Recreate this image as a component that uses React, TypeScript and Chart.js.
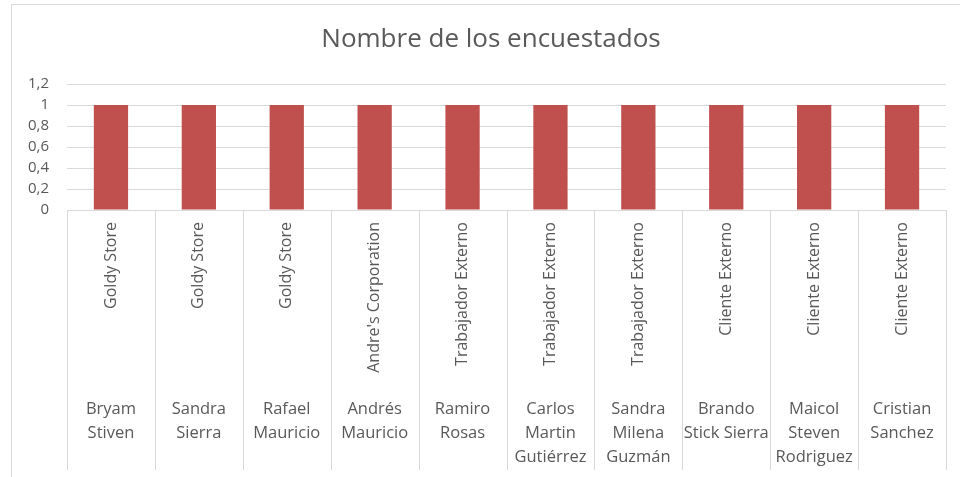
import React, { useEffect, useRef } from "react";
import { Chart, registerables } from "chart.js";

Chart.register(...registerables);

const chartTitle = "Nombre de los encuestados";
const names: string[][] = [
  ["Bryam", "Stiven"],
  ["Sandra", "Sierra"],
  ["Rafael", "Mauricio"],
  ["Andrés", "Mauricio"],
  ["Ramiro", "Rosas"],
  ["Carlos", "Martin", "Gutiérrez"],
  ["Sandra", "Milena", "Guzmán"],
  ["Brando", "Stick Sierra"],
  ["Maicol", "Steven", "Rodriguez"],
  ["Cristian", "Sanchez"],
];
const groups: string[] = [
  "Goldy Store",
  "Goldy Store",
  "Goldy Store",
  "Andre's Corporation",
  "Trabajador Externo",
  "Trabajador Externo",
  "Trabajador Externo",
  "Cliente Externo",
  "Cliente Externo",
  "Cliente Externo",
];
const values: number[] = [1, 1, 1, 1, 1, 1, 1, 1, 1, 1];
const yMax = 1.2;
const yStep = 0.2;

const FONT = "'Open Sans', 'Noto Sans', sans-serif";
const TEXT = "#595959";
const LINE = "#d9d9d9";

const decorPlugin = {
  id: "decor",
  beforeDraw(chart: any) {
    const ctx = chart.ctx;
    ctx.save();
    ctx.strokeStyle = LINE;
    ctx.lineWidth = 1;
    ctx.strokeRect(11.5, 4.5, 1000, 1000);
    ctx.fillStyle = TEXT;
    ctx.font = `26px ${FONT}`;
    ctx.textAlign = "center";
    ctx.textBaseline = "middle";
    ctx.fillText(chartTitle, 491, 40);
    ctx.restore();
  },
  afterDraw(chart: any) {
    const ctx = chart.ctx;
    const xs = chart.scales.x;
    const area = chart.chartArea;
    const n = chart.data.labels.length;
    const w = (area.right - area.left) / n;
    ctx.save();
    ctx.strokeStyle = LINE;
    ctx.lineWidth = 1;
    for (let i = 0; i <= n; i++) {
      const x = Math.round(area.left + i * w) + 0.5;
      ctx.beginPath();
      ctx.moveTo(x, area.bottom);
      ctx.lineTo(x, 470);
      ctx.stroke();
    }
    ctx.fillStyle = TEXT;
    for (let i = 0; i < n; i++) {
      const cx = xs.getPixelForValue(i);
      ctx.save();
      ctx.translate(cx, area.bottom + 12);
      ctx.rotate(-Math.PI / 2);
      ctx.font = `16px ${FONT}`;
      ctx.textAlign = "right";
      ctx.textBaseline = "middle";
      ctx.fillText(groups[i], 0, 0);
      ctx.restore();
      ctx.font = `16.5px ${FONT}`;
      ctx.textAlign = "center";
      ctx.textBaseline = "middle";
      names[i].forEach((line, j) => {
        ctx.fillText(line, cx, 409 + j * 24);
      });
    }
    ctx.restore();
  },
};

export default function App() {
  const ref = useRef<HTMLCanvasElement>(null);
  useEffect(() => {
    if (!ref.current) return;
    const chart = new Chart(ref.current, {
      type: "bar",
      data: {
        labels: names.map((n) => n.join(" ")),
        datasets: [
          {
            data: values,
            backgroundColor: "#c0504d",
            categoryPercentage: 1,
            barPercentage: 0.39,
          },
        ],
      },
      options: {
        responsive: false,
        animation: false,
        layout: { padding: { left: 0, top: 84, right: 14, bottom: 0 } },
        plugins: {
          legend: { display: false },
          title: { display: false },
          tooltip: { enabled: false },
        },
        scales: {
          x: {
            ticks: { display: false },
            grid: { display: false, drawTicks: false },
            border: { display: true, color: LINE },
            afterFit(scale: any) {
              scale.height = 267;
            },
          },
          y: {
            min: 0,
            max: yMax,
            ticks: {
              stepSize: yStep,
              padding: 18,
              color: TEXT,
              font: { family: FONT, size: 15 },
              callback: (v: any) => {
                const num = Number(v);
                return Math.abs(num - Math.round(num)) < 1e-9
                  ? String(Math.round(num))
                  : num.toFixed(1).replace(".", ",");
              },
            },
            grid: { color: LINE, drawTicks: false },
            border: { display: false },
            afterFit(scale: any) {
              scale.width = 67;
            },
          },
        },
      },
      plugins: [decorPlugin],
    });
    return () => chart.destroy();
  }, []);
  return (
    <div style={{ position: "fixed", left: 0, top: 0, width: 960, height: 477, background: "#fff" }}>
      <canvas ref={ref} width={960} height={477} />
    </div>
  );
}
